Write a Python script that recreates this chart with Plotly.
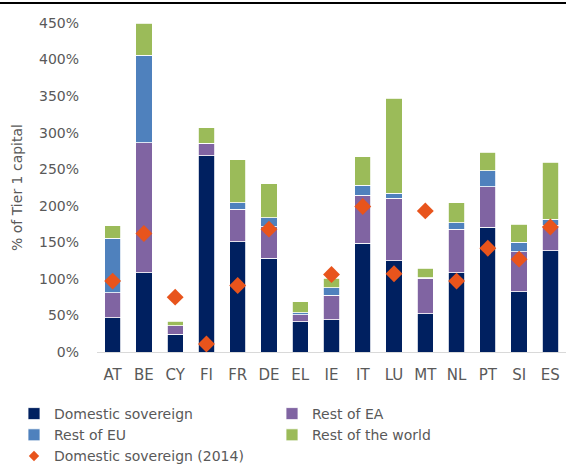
import plotly.graph_objects as go

# countries
countries = ['AT', 'BE', 'CY', 'FI', 'FR', 'DE', 'EL', 'IE', 'IT', 'LU', 'MT', 'NL', 'PT', 'SI', 'ES']

# holdings as % of Tier 1 capital (stacked segments)
domestic = [46.6, 108.2, 24.3, 268.2, 150.7, 128.0, 41.1, 44.4, 148.5, 124.7, 52.6, 108.2, 170.5, 82.2, 138.4]
rest_ea = [34.2, 178.2, 11.9, 17.4, 44.4, 43.3, 10.1, 33.3, 66.2, 85.5, 48.0, 59.9, 55.6, 54.8, 35.2]
rest_eu = [74.6, 119.2, 0.0, 0.0, 9.1, 12.3, 2.8, 10.0, 13.7, 6.8, 0.8, 8.7, 21.5, 12.9, 7.8]
rest_world = [17.2, 44.4, 5.9, 21.3, 58.5, 46.2, 14.5, 12.9, 38.8, 130.2, 12.9, 27.4, 25.6, 24.7, 78.1]
domestic_2014 = [97, 162, 75, 11, 91, 168, None, 106, 199, 107, 193, 97, 142, 127, 171]

FONT = 'DejaVu Sans'
GREY = '#595959'
ORANGE = '#E8541C'
W, H = 566, 464

fig = go.Figure()
series = [
    ('Domestic sovereign', domestic, '#002060'),
    ('Rest of EA', rest_ea, '#8064A2'),
    ('Rest of EU', rest_eu, '#4F81BD'),
    ('Rest of the world', rest_world, '#9BBB59'),
]
for name, vals, col in series:
    fig.add_trace(go.Bar(x=countries, y=vals, name=name,
                         marker=dict(color=col, line=dict(color='white', width=0.8))))

fig.add_trace(go.Scatter(x=countries, y=domestic_2014, mode='markers', showlegend=False,
                         marker=dict(symbol='diamond', size=13, color=ORANGE)))
# smaller diamond for the legend entry only
fig.add_trace(go.Scatter(x=[None], y=[None], mode='markers', name='Domestic sovereign (2014)',
                         marker=dict(symbol='diamond', size=8, color=ORANGE)))

# black rule across the top, drawn on a hidden full-figure subplot
fig.add_trace(go.Scatter(x=[0, 1], y=[(H - 3) / H] * 2, mode='lines', xaxis='x2', yaxis='y2',
                         showlegend=False, hoverinfo='skip',
                         line=dict(color='black', width=2)))

# zero margins; the plot area is placed with axis domains so paper spans the whole figure
fig.update_layout(
    barmode='stack', bargap=0.48,
    width=W, height=H,
    margin=dict(l=0, r=0, t=0, b=0, autoexpand=False),
    plot_bgcolor='rgba(0,0,0,0)', paper_bgcolor='white',
    font=dict(family=FONT, size=14, color=GREY),
    showlegend=True,
    legend=dict(orientation='h', x=14 / W, xanchor='left', y=(H - 398) / H, yanchor='top',
                entrywidth=213, itemwidth=30, traceorder='normal',
                font=dict(family=FONT, size=14, color=GREY)),
    xaxis=dict(domain=[97 / W, 1], range=[-0.5, 14.5], showline=True, linecolor='#D9D9D9',
               linewidth=1, ticks='', showgrid=False, automargin=False, ticklabelstandoff=9,
               tickfont=dict(size=15, color=GREY)),
    yaxis=dict(domain=[(H - 352) / H, (H - 23) / H], range=[0, 450], dtick=50, ticksuffix='%',
               showgrid=False, zeroline=False, showline=False, automargin=False,
               ticklabelstandoff=17, tickfont=dict(size=14, color=GREY),
               title=dict(text='% of Tier 1 capital', font=dict(size=14, color=GREY), standoff=13)),
    xaxis2=dict(domain=[0, 1], range=[0, 1], anchor='y2', visible=False, fixedrange=True),
    yaxis2=dict(domain=[0, 1], range=[0, 1], anchor='x2', visible=False, fixedrange=True),
)

fig.write_html('out.html', config={'displayModeBar': False},
               post_script="document.body.style.margin='0'; document.body.style.overflow='hidden';")
